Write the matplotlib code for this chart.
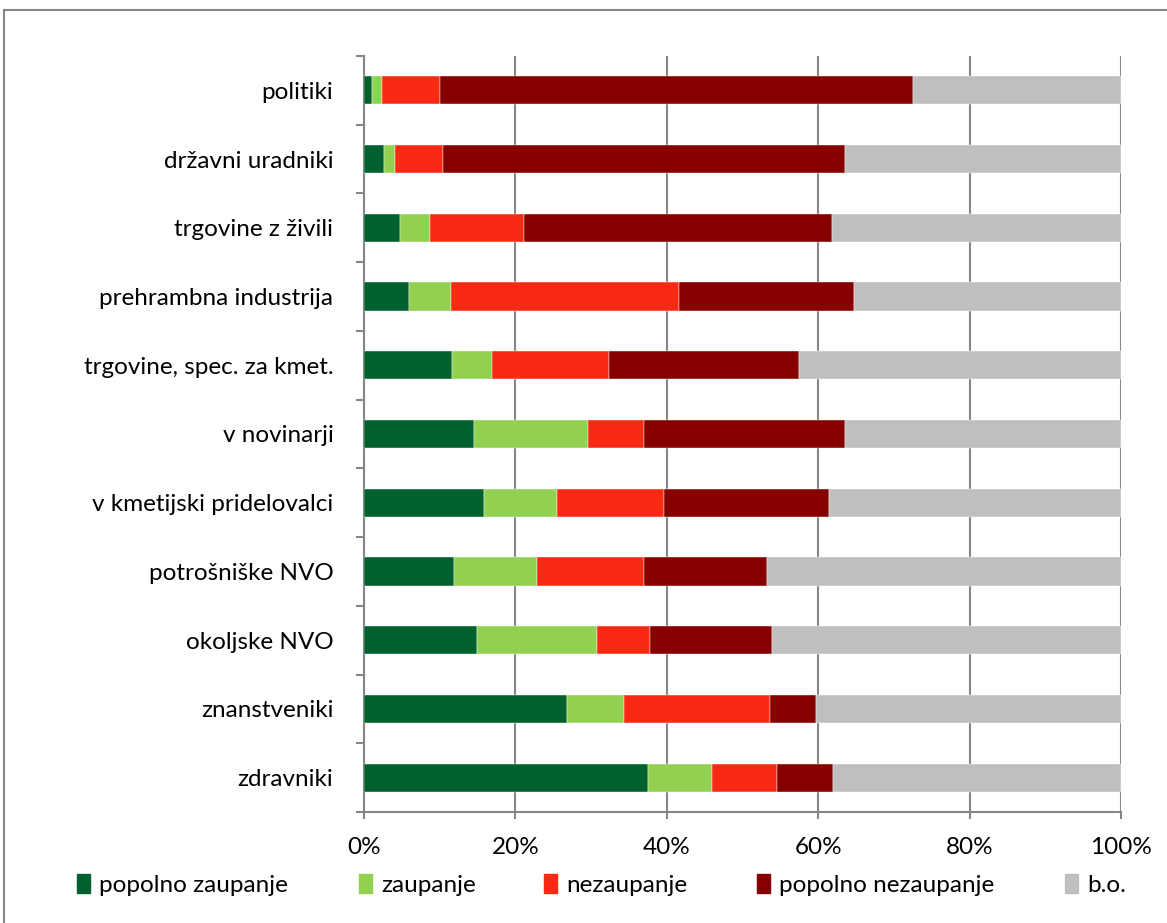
import matplotlib.pyplot as plt
from matplotlib.patches import Rectangle, Patch

plt.rcParams['font.family'] = ['Lato', 'DejaVu Sans']

# groups, bottom to top as drawn on the y axis
groups = ['zdravniki', 'znanstveniki', 'okoljske NVO', 'potrošniške NVO',
          'v kmetijski pridelovalci', 'v novinarji', 'trgovine, spec. za kmet.',
          'prehrambna industrija', 'trgovine z živili', 'državni uradniki', 'politiki']

# shares in percent, same order as groups
popolno_zaupanje = [37.5, 26.8, 14.9, 11.9, 15.8, 14.5, 11.6, 5.9, 4.8, 2.6, 1.1]
zaupanje = [8.5, 7.6, 15.9, 10.9, 9.7, 15.1, 5.3, 5.6, 3.9, 1.5, 1.3]
nezaupanje = [8.5, 19.2, 7.0, 14.2, 14.1, 7.4, 15.4, 30.1, 12.5, 6.3, 7.6]
popolno_nezaupanje = [7.5, 6.1, 16.1, 16.2, 21.8, 26.5, 25.2, 23.1, 40.6, 53.1, 62.5]
bo = [38.0, 40.3, 46.1, 46.8, 38.6, 36.5, 42.5, 35.3, 38.2, 36.5, 27.5]

series = [('popolno zaupanje', popolno_zaupanje, '#00612E'),
          ('zaupanje', zaupanje, '#92D050'),
          ('nezaupanje', nezaupanje, '#F92A14'),
          ('popolno nezaupanje', popolno_nezaupanje, '#860000'),
          ('b.o.', bo, '#BFBFBF')]

fs = 17.5
W, H = 1167, 923

fig = plt.figure(figsize=(W / 100, H / 100), dpi=100)
ax = fig.add_axes([364 / W, 1 - 812 / H, 757 / W, 756 / H])

grid_col = '#868686'
y = range(len(groups))
left = [0.0] * len(groups)
for name, vals, col in series:
    ax.barh(y, vals, left=left, height=0.41, color=col, label=name,
            edgecolor='white', linewidth=0.3, zorder=3)
    left = [a + b for a, b in zip(left, vals)]

ax.set_xlim(0, 100)
ax.set_ylim(-0.5, len(groups) - 0.5)
ax.set_xticks([0, 20, 40, 60, 80, 100])
ax.set_xticklabels(['0%', '20%', '40%', '60%', '80%', '100%'])
ax.set_yticks(list(y))
ax.set_yticklabels(groups)
ax.set_yticks([i - 0.5 for i in range(len(groups) + 1)], minor=True)

ax.xaxis.grid(True, color=grid_col, linewidth=1.5, zorder=0)
for s in ['top', 'right']:
    ax.spines[s].set_visible(False)
for s in ['left', 'bottom']:
    ax.spines[s].set_color(grid_col)
    ax.spines[s].set_linewidth(1.5)
ax.tick_params(axis='y', which='major', length=0, pad=22, labelsize=fs)
ax.tick_params(axis='y', which='minor', length=6, width=1.5, color=grid_col)
ax.tick_params(axis='x', length=5, width=1.5, color=grid_col, pad=13, labelsize=fs)

# one legend entry per series, spaced along the bottom
legend_x = [77, 359, 544, 757, 1065]
for (name, vals, col), lx in zip(series, legend_x):
    fig.legend(handles=[Patch(color=col, label=name)], loc='center left',
               bbox_to_anchor=(lx / W, 1 - 885 / H), frameon=False, fontsize=fs,
               borderpad=0, borderaxespad=0, handlelength=0.55, handleheight=0.8,
               handletextpad=0.35)

# chart frame
fig.patches.append(Rectangle((4 / W, -0.05), 1.2, 1 - 10 / H + 0.05,
                             transform=fig.transFigure, fill=False,
                             edgecolor=grid_col, linewidth=1.5))

fig.savefig('out.png', dpi=100)
